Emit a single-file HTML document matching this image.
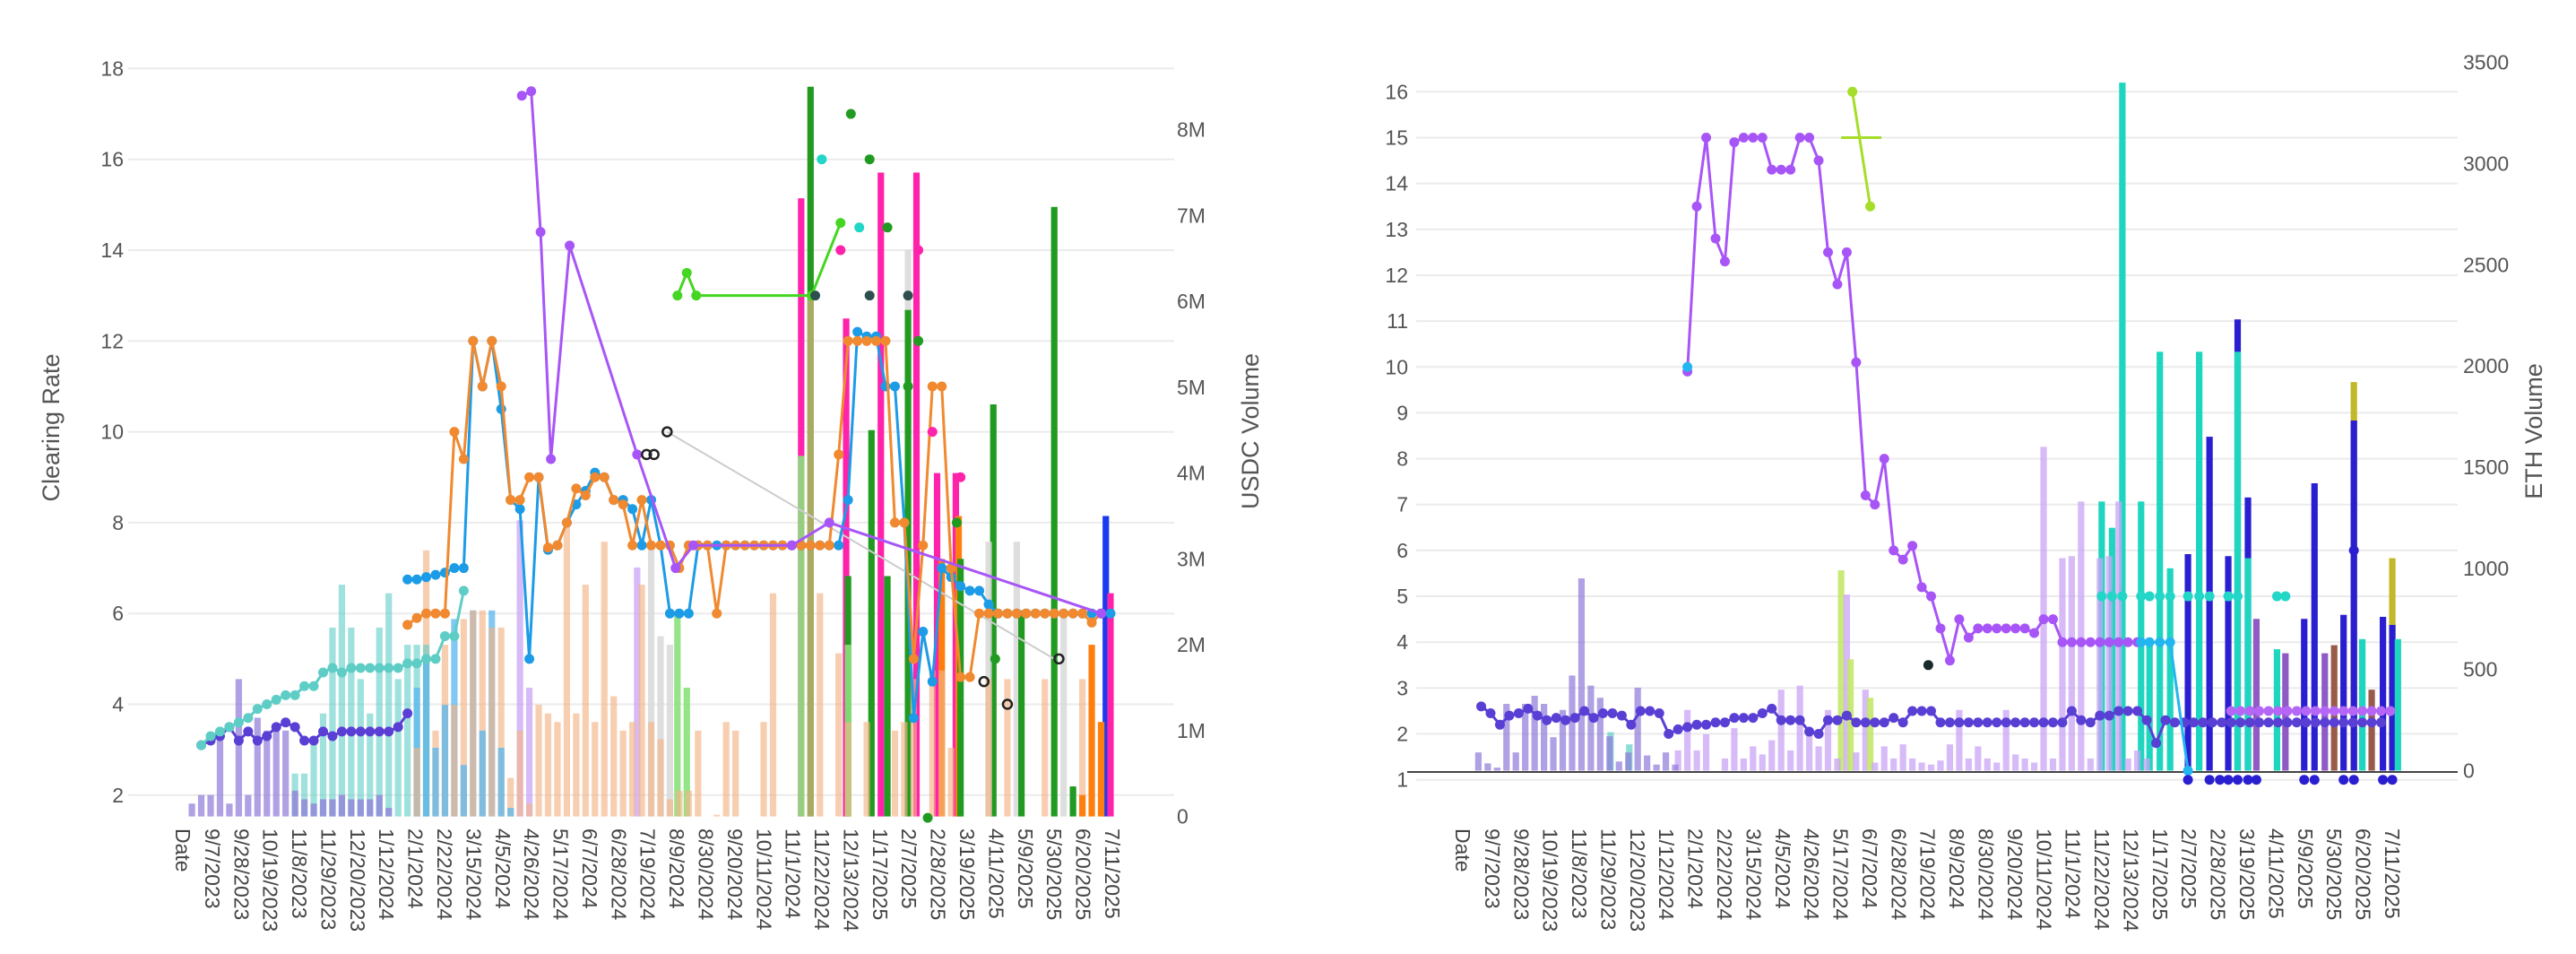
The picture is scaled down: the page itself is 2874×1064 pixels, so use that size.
<!DOCTYPE html>
<html><head><meta charset="utf-8"><style>
html,body{margin:0;padding:0;background:#fff}
svg{display:block;font-family:"Liberation Sans",sans-serif}
</style></head><body>
<svg id="c" width="2874" height="1064" viewBox="0 0 2874 1064" xmlns="http://www.w3.org/2000/svg">
<g id="L"></g>
<g id="R"></g>
</svg>
<script>
// ---------- shared ----------
const dateLabels=["9/7/2023","9/28/2023","10/19/2023","11/8/2023","11/29/2023","12/20/2023","1/12/2024","2/1/2024","2/22/2024","3/15/2024","4/5/2024","4/26/2024","5/17/2024","6/7/2024","6/28/2024","7/19/2024","8/9/2024","8/30/2024","9/20/2024","10/11/2024","11/1/2024","11/22/2024","12/13/2024","1/17/2025","2/7/2025","2/28/2025","3/19/2025","4/11/2025","5/9/2025","5/30/2025","6/20/2025","7/11/2025"];
// ---------- left chart data (USDC) ----------
const leftRateTicks=[2,4,6,8,10,12,14,16,18];
const leftVolTicks=[0,1,2,3,4,5,6,7,8];
const lDarkPurpleStart=-1;
const lDarkPurple=[3.1,3.2,3.3,3.5,3.2,3.4,3.2,3.3,3.5,3.6,3.5,3.2,3.2,3.4,3.3,3.4,3.4,3.4,3.4,3.4,3.4,3.5,3.8];
const lTealStart=-1;
const lTeal=[3.1,3.3,3.4,3.5,3.6,3.7,3.9,4.0,4.1,4.2,4.2,4.4,4.4,4.7,4.8,4.7,4.8,4.8,4.8,4.8,4.8,4.8,4.9,4.9,5.0,5.0,5.5,5.5,6.5];
const lBlueStart=21;
const lBlue=[6.75,6.75,6.8,6.85,6.9,7.0,7.0,12,11,12,10.5,8.5,8.3,5.0,9.0,7.4,7.5,8.0,8.4,8.7,9.1,9.0,8.5,8.5,8.3,7.5,8.5,7.5,6.0,6.0,6.0,7.5,7.5,7.5,7.5,7.5,7.5,7.5,7.5,7.5,7.5,7.5,7.5,7.5,7.5,7.5,7.5,8.5,12.2,12.1,12.1,11.0,11.0,8.0,3.7,5.6,4.5,7.0,6.8,6.6,6.5,6.5,6.2,6,6,6,6,6,6,6,6,6,6,6,6,6];
const lOrangeStart=21;
const lOrange=[5.75,5.9,6.0,6.0,6.0,10.0,9.4,12,11,12,11,8.5,8.5,9.0,9.0,7.45,7.5,8.0,8.75,8.6,9.0,9.0,8.5,8.4,7.5,8.5,7.5,7.5,7.5,7.0,7.5,7.5,7.5,6.0,7.5,7.5,7.5,7.5,7.5,7.5,7.5,7.5,7.5,7.5,7.5,7.5,9.5,12,12,12,12,12,8.0,8.0,5.0,7.5,11,11,7.0,4.6,4.6,6,6,6,6,6,6,6,6,6,6,6,6,5.8,6.0];
const lPurpleW=[33.2,34.2,35.2,36.3,38.3,45.5,49.6,51.5,62,66,95];
const lPurpleV=[17.4,17.5,14.4,9.4,14.1,9.5,7.0,7.5,7.5,8.0,6.0];
const lGreenW=[49.8,50.8,51.8,64.1,67.2];
const lGreenV=[13,13.5,13,13,14.6];
const lGrayW=[48.7,90];
const lGrayV=[10,5];
const lTealDotW=[65.2,69.2];const lTealDotV=[16,14.5];
const lDkGreenDotW=[68.3,70.3,72.2,74.4,75.5,79.6,76.5,83.7];const lDkGreenDotV=[17,16,14.5,11,12,8,1.5,5];
const lSlateDotW=[64.5,70.3,74.4];const lSlateDotV=[13,13,13];
const lPinkDotW=[67.2,77,80,75.5];const lPinkDotV=[14,10,9,14];
const lOpenW=[48.7,46.5,47.3,82.5,85,90.5];const lOpenV=[10,9.5,9.5,4.5,4.0,5.0];
// bars (M) - value = top of bar
const lLavStart=-2;
const lLav=[0.15,0.25,0.25,1.0,0.15,1.6,0.25,1.15,1.0,1.0,1.0,0.3,0.2,0.15,0.2,0.2,0.25,0.2,0.2,0.2,0.25,0.1];
const lLav2W=[33,34,45.5];const lLav2V=[3.45,1.5,2.9];
const lTealBarStart=9;
const lTealBar=[0.5,0.5,0.9,1.2,2.2,2.7,2.2,1.6,1.2,2.2,2.6,1.6,2.0,2.0,2.0];
const lLBlueStart=22;
const lLBlue=[1.5,1.8,0.8,1.3,2.3,0.6,2.4,1.0,2.4,0.8,0.1];
const lPeachStart=21;
const lPeach=[0,0.8,3.1,1.0,2.0,1.3,2.3,2.4,2.4,2.2,2.2,0.45,1.0,0.15,1.3,1.2,1.1,3.4,1.2,2.7,1.1,3.2,1.4,1.0,1.1,2.7,1.1,0.9,0.2,0.3,0.3,1.0,0,0.02,1.1,1.0,0,0,1.1,2.6,0,0,0,6.1,2.6,0,1.9,1.1,0,1.1,0,0,1.0,1.1,1.6,0,1.7,1.7,0.8,0,0,0,1.6,0,1.6,0,0,0,1.6,0,0,0,1.6,0,1.1];
const lLGreenW=[49.8,50.8,63,68];const lLGreenV=[2.35,1.5,4.2,2.0];
const lGrayBarW=[47,48,49,74.4,83,86,91];const lGrayBarV=[3.2,2.1,2.0,6.6,3.2,3.2,2.4];
const lDkGreenW=[64,68,70.5,72.2,74.4,80,83.5,86.5,90,92];const lDkGreenV=[8.5,2.8,4.5,2.8,5.9,3.0,4.8,2.4,7.1,0.35];
const lOrangeBarW=[78,79.8,93,94,95];const lOrangeBarV=[3.0,3.5,0.25,2.0,1.1];
const lPinkW=[63,67.8,71.5,75.3,77.5,79.5,96];const lPinkV=[7.2,5.8,7.5,7.5,4.0,4.0,2.6];
const lBlueBarW=[95.5];const lBlueBarV=[3.5];
// ---------- right chart data (ETH) ----------
const rightRateTicks=[1,2,3,4,5,6,7,8,9,10,11,12,13,14,15,16];
const rightVolTicks=[0,500,1000,1500,2000,2500,3000,3500];
const rPurpleStart=21;
const rPurple=[9.9,13.5,15,12.8,12.3,14.9,15,15,15,14.3,14.3,14.3,15,15,14.5,12.5,11.8,12.5,10.1,7.2,7.0,8.0,6.0,5.8,6.1,5.2,5.0,4.3,3.6,4.5,4.1,4.3,4.3,4.3,4.3,4.3,4.3,4.2,4.5,4.5,4.0,4.0,4.0,4.0,4.0,4.0,4.0,4.0,4.0];
const rDarkPurpleStart=-1;
const rDarkPurple=[2.6,2.45,2.2,2.4,2.45,2.55,2.4,2.3,2.35,2.3,2.35,2.5,2.35,2.45,2.45,2.4,2.2,2.5,2.5,2.45,2.0,2.1,2.15,2.2,2.2,2.25,2.25,2.35,2.35,2.35,2.45,2.55,2.3,2.3,2.3,2.05,2.0,2.3,2.3,2.4,2.25,2.25,2.25,2.25,2.35,2.25,2.5,2.5,2.5,2.25,2.25,2.25,2.25,2.25,2.25,2.25,2.25,2.25,2.25,2.25,2.25,2.25,2.25,2.5,2.3,2.25,2.4,2.4,2.5,2.5,2.5,2.3,1.8,2.3,2.25,2.25,2.25,2.25,2.25,2.25,2.25,2.25,2.25,2.25,2.25,2.25,2.25,2.25,2.25,2.25,2.25,2.25,2.25,2.25,2.25,2.25,2.25];
const rLavLineW=[79,80,81,82,83,84,85,86,87,88,89,90,91,92,93,94,95,96];
const rLavLineV=[2.5,2.5,2.5,2.5,2.5,2.5,2.5,2.5,2.5,2.5,2.5,2.5,2.5,2.5,2.5,2.5,2.5,2.5];
const rTealDotW=[65.2,66.3,67.4,69.4,70.3,71.4,72.5,74.4,75.6,76.7,78.7,79.7,83.9,84.8];
const rTealDotV=[5,5,5,5,5,5,5,5,5,5,5,5,5,5];
const rLBlueW=[69.4,70.3,71.4,72.5,74.4];const rLBlueV=[4,4,4,4,1.2];
const rYG1W=[38.6,40.5];const rYG1V=[16,13.5];
const rYG2W=[37.4,38.6,40.5,41.7];const rYG2V=[15,15,15,15];
const rBlueDotW=[74.4,76.7,77.8,78.7,79.7,80.8,81.7,86.8,87.9,91,92.1,95.2,96.2,92.1];
const rBlueDotV=[1,1,1,1,1,1,1,1,1,1,1,1,1,6.0];
const rLav=[90,36,15,330,90,330,370,330,165,300,470,950,420,360,170,45,90,410,75,30,90,30];
const rLavStart=-1.3;
const rTealSmallW=[12.8,14.8];const rTealSmallV=[190,130];
const rLightLavStart=20;
const rLightLav=[100,300,100,180,0,60,210,60,120,80,150,400,100,420,200,120,300,60,870,90,400,40,120,60,130,60,40,30,50,130,300,60,120,60,40,300,80,60,40,1600,60,1050,1060,1330,60,1050,1060,1330,60,100,60];
const rLGreenW=[37.4,38.4,40.5];const rLGreenV=[990,550,360];
const rTealBarW=[65.2,66.3,67.4,69.4,70.3,71.4,72.5,75.6,79.7,80.8,83.9,93,96.8];
const rTealBarV=[1330,1200,3400,1330,650,2070,1000,2070,2070,1050,600,650,650];
const rDkBlueW=[74.4,76.7,78.7,79.7,80.8,86.8,87.9,91,92.1,95.2,96.2];
const rDkBlueV=[1070,1650,1060,2230,1350,750,1420,770,1730,760,720];
const rOliveW=[92.1,96.2];const rOliveV=[1920,1050];
const rBrownW=[90,94];const rBrownV=[620,400];
const rMedPurpleW=[81.7,84.8,89];const rMedPurpleV=[750,580,580];

// ---------- helpers ----------
const NS="http://www.w3.org/2000/svg";
function mk(parent,tag,attrs,text){const e=document.createElementNS(NS,tag);for(const k in attrs)e.setAttribute(k,attrs[k]);if(text!==undefined)e.textContent=text;parent.appendChild(e);return e;}
function seq(start,arr){return arr.map((v,i)=>start+i);}

function drawChart(g,cfg){
  // gridlines & ticks
  cfg.rateTicks.forEach(t=>{
    const y=cfg.y(t);
    const gl=mk(g,'line',{x1:cfg.gx0,x2:cfg.gx1,y1:y,y2:y,stroke:'#ebebeb','stroke-width':2});
    
    
    const tl=mk(g,'text',{x:cfg.lx,y:y+8,'text-anchor':'end','font-size':23,fill:'#555'},String(t));
    
    
  });
  cfg.volTicks.forEach(t=>{
    const y=cfg.v(t);
    const tl=mk(g,'text',{x:cfg.rx,y:y+8,'font-size':23,fill:'#555'},cfg.volFmt(t));
    
    
  });
  if(cfg.axisLine){const al=mk(g,'line',{x1:cfg.gx0-10,x2:cfg.gx1,y1:cfg.axisLine,y2:cfg.axisLine,stroke:'#444','stroke-width':2});
    
    }
  // bars: overlay, tallest first
  const bars=[];
  cfg.bars.forEach(s=>s.w.forEach((w,i)=>{if(s.vals[i]>0)bars.push({w:w,val:s.vals[i],c:s.c,o:s.o});}));
  bars.sort((a,b)=>b.val-a.val);
  bars.forEach(b=>{
    const x=cfg.x(b.w),y=cfg.v(b.val),y0=cfg.v(0);
    const r=mk(g,'rect',{x:x-3.6,y:y,width:7.2,height:Math.max(0,y0-y),fill:b.c,'fill-opacity':b.o});
    
    
  });
  // lines
  cfg.lines.forEach(s=>{
    const pts=s.w.map((w,i)=>cfg.x(w)+','+cfg.y(s.vals[i])).join(' ');
    if(s.line!==false){const pl=mk(g,'polyline',{points:pts,fill:'none',stroke:s.c,'stroke-width':s.lw||3,'stroke-opacity':s.o||1,'stroke-linejoin':'round'});
      
      }
    if(s.marker!==false)s.w.forEach((w,i)=>{
      const c=mk(g,'circle',{cx:cfg.x(w),cy:cfg.y(s.vals[i]),r:s.r||5.5,fill:s.open?'none':s.c,stroke:s.open?'#222':'none','stroke-width':2.5});
      
      
    });
  });
  // date labels
  const dl=mk(g,'text',{transform:`translate(${cfg.dateX},${cfg.dateY}) rotate(90)`,'font-size':23,fill:'#444','dominant-baseline':'middle'},'Date');
  
  
  dateLabels.forEach((d,i)=>{
    const x=cfg.x0+i*(1004/31);
    const t=mk(g,'text',{transform:`translate(${x},${cfg.dateY}) rotate(90)`,'font-size':23,fill:'#444','dominant-baseline':'middle'},d);
    
    
  });
  const t1=mk(g,'text',{transform:`translate(${cfg.t1x},${cfg.t1y}) rotate(-90)`,'font-size':27,fill:'#555','text-anchor':'middle'},cfg.title1);
  
  
  const t2=mk(g,'text',{transform:`translate(${cfg.t2x},${cfg.t2y}) rotate(-90)`,'font-size':27,fill:'#555','text-anchor':'middle'},cfg.title2);
  
  
}

// ---------- left ----------
const xL=w=>235+w*10.458, yL=v=>76.4+(18-v)*50.65, vL=m=>910.6-m*95.75;
drawChart(document.getElementById('L'),{
  x:xL,y:yL,v:vL,x0:235,gx0:143,gx1:1310,lx:138,rx:1313,dateX:202,dateY:924,
  rateTicks:leftRateTicks,volTicks:leftVolTicks,volFmt:t=>t===0?'0':t+'M',
  t1x:66,t1y:477,title1:'Clearing Rate',t2x:1404,t2y:481,title2:'USDC Volume',
  bars:[
    {w:seq(lLavStart,lLav),vals:lLav,c:'#8f78d8',o:0.7},
    {w:lLav2W,vals:lLav2V,c:'#c9a4f5',o:0.75},
    {w:seq(lTealBarStart,lTealBar),vals:lTealBar,c:'#5ecdc6',o:0.6},
    {w:seq(lLBlueStart,lLBlue),vals:lLBlue,c:'#58b6ee',o:0.75},
    {w:seq(lPeachStart,lPeach),vals:lPeach,c:'#f5b487',o:0.65},
    {w:lLGreenW,vals:lLGreenV,c:'#88e27a',o:0.9},
    {w:lGrayBarW,vals:lGrayBarV,c:'#d8d8d8',o:0.85},
    {w:lDkGreenW,vals:lDkGreenV,c:'#219a21',o:1},
    {w:lOrangeBarW,vals:lOrangeBarV,c:'#ff7f0e',o:1},
    {w:lPinkW,vals:lPinkV,c:'#ff22aa',o:1},
    {w:lBlueBarW,vals:lBlueBarV,c:'#1a3cf0',o:1}
  ],
  lines:[
    {name:'gray-line',w:lGrayW,vals:lGrayV,c:'#cccccc',lw:2,marker:false},
    {name:'dark-purple-line',w:seq(lDarkPurpleStart,lDarkPurple),vals:lDarkPurple,c:'#5a3fd4'},
    {name:'teal-line',w:seq(lTealStart,lTeal),vals:lTeal,c:'#5ecdc6'},
    {name:'blue-line',w:seq(lBlueStart,lBlue),vals:lBlue,c:'#1c9be6'},
    {name:'orange-line',w:seq(lOrangeStart,lOrange),vals:lOrange,c:'#f0892f'},
    {name:'purple-line',w:lPurpleW,vals:lPurpleV,c:'#a855f7'},
    {name:'green-line',w:lGreenW,vals:lGreenV,c:'#44d622'},
    {name:'teal-dots',w:lTealDotW,vals:lTealDotV,c:'#22d6c8',line:false},
    {name:'dark-green-dots',w:lDkGreenDotW,vals:lDkGreenDotV,c:'#219a21',line:false},
    {name:'slate-dots',w:lSlateDotW,vals:lSlateDotV,c:'#2f4f4f',line:false},
    {name:'pink-dots',w:lPinkDotW,vals:lPinkDotV,c:'#ff22aa',line:false},
    {name:'open-dots',w:lOpenW,vals:lOpenV,c:'#222',line:false,open:true,r:5}
  ]
});
// ---------- right ----------
const xR=w=>1663+w*10.458, yR=v=>102.3+(16-v)*51.16, vR=e=>859.5-e*0.2257;
drawChart(document.getElementById('R'),{
  x:xR,y:yR,v:vR,x0:1663,gx0:1580,gx1:2742,lx:1571,rx:2748,dateX:1630,dateY:924,
  rateTicks:rightRateTicks,volTicks:rightVolTicks,volFmt:t=>String(t),axisLine:861,
  t1x:-100,t1y:-100,title1:'',t2x:2836,t2y:481,title2:'ETH Volume',
  bars:[
    {w:rLav.map((v,i)=>rLavStart+i),vals:rLav,c:'#8f78d8',o:0.7},
    {w:rTealSmallW,vals:rTealSmallV,c:'#5ecdc6',o:0.7},
    {w:seq(rLightLavStart,rLightLav),vals:rLightLav,c:'#c9a4f5',o:0.75},
    {w:rLGreenW,vals:rLGreenV,c:'#c3e86a',o:0.9},
    {w:rTealBarW,vals:rTealBarV,c:'#1ed6bf',o:1},
    {w:rDkBlueW,vals:rDkBlueV,c:'#2a1fd0',o:1},
    {w:rOliveW,vals:rOliveV,c:'#c2b82a',o:1},
    {w:rBrownW,vals:rBrownV,c:'#9a5a4a',o:1},
    {w:rMedPurpleW,vals:rMedPurpleV,c:'#8e5bc4',o:1}
  ],
  lines:[
    {name:'purple-line',w:seq(rPurpleStart,rPurple),vals:rPurple,c:'#a855f7'},
    {name:'dark-purple-line',w:seq(rDarkPurpleStart,rDarkPurple),vals:rDarkPurple,c:'#5a3fd4'},
    {name:'lavender-line',w:rLavLineW,vals:rLavLineV,c:'#b566f7',lw:2},
    {name:'light-blue-line',w:rLBlueW,vals:rLBlueV,c:'#22b6f0'},
    {name:'teal-dots',w:rTealDotW,vals:rTealDotV,c:'#22d6c8',line:false},
    {name:'yellow-green-line-a',w:rYG1W,vals:rYG1V,c:'#a6dd2a'},
    {name:'yellow-green-line-b',w:rYG2W,vals:rYG2V,c:'#a6dd2a',marker:false},
    {name:'dark-blue-dots',w:rBlueDotW,vals:rBlueDotV,c:'#2a1fd0',line:false},
    {name:'black-dot',w:[46.7],vals:[3.5],c:'#1a2a2a',line:false},
    {name:'light-blue-dot',w:[21],vals:[10],c:'#22b6f0',line:false}
  ]
});
</script>
</body></html>
